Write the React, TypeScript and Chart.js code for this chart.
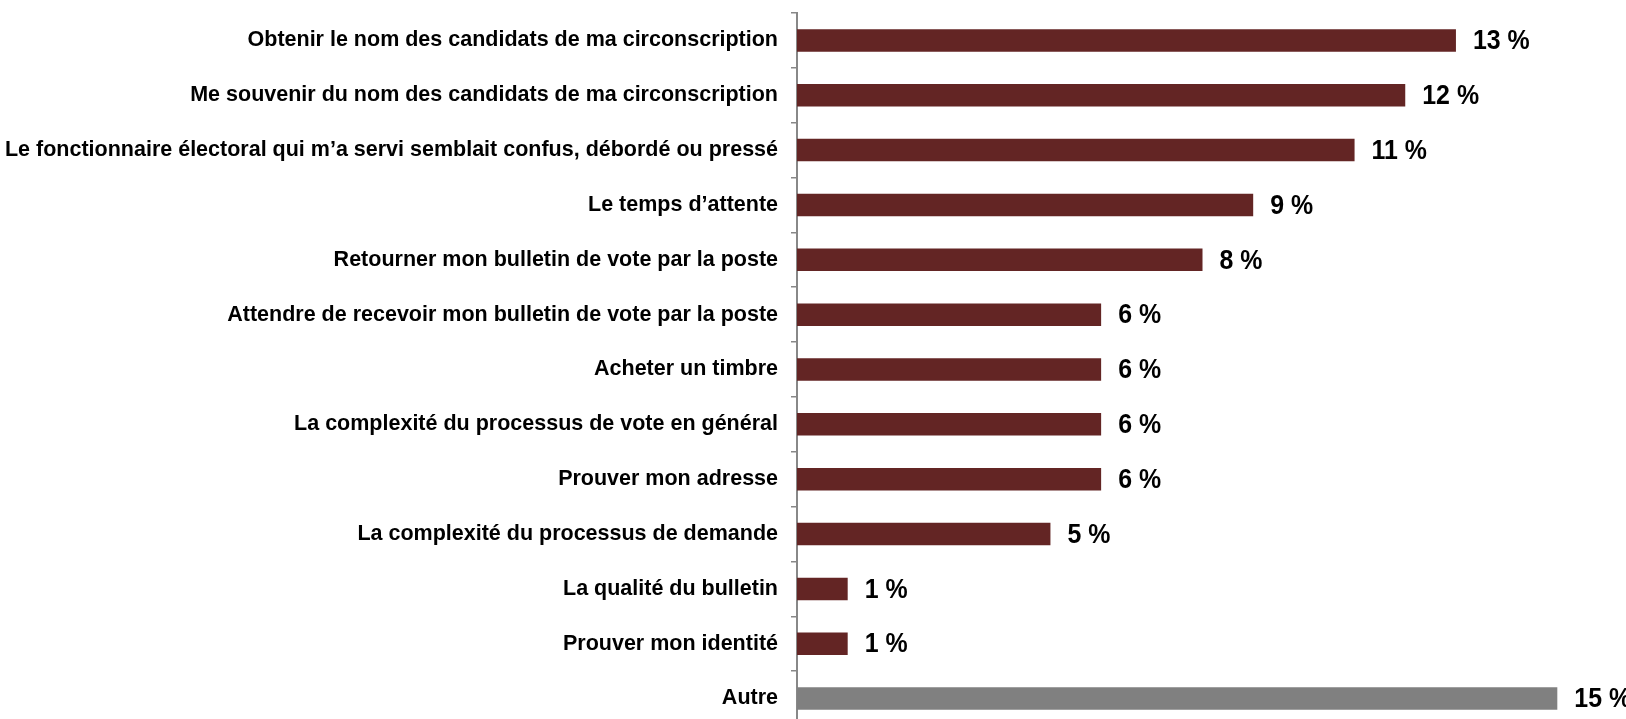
import React, { useEffect, useRef } from "react";
import { Chart, registerables } from "chart.js";

Chart.register(...registerables);

const categories: string[] = [
  "Obtenir le nom des candidats de ma circonscription",
  "Me souvenir du nom des candidats de ma circonscription",
  "Le fonctionnaire électoral qui m’a servi semblait confus, débordé ou pressé",
  "Le temps d’attente",
  "Retourner mon bulletin de vote par la poste",
  "Attendre de recevoir mon bulletin de vote par la poste",
  "Acheter un timbre",
  "La complexité du processus de vote en général",
  "Prouver mon adresse",
  "La complexité du processus de demande",
  "La qualité du bulletin",
  "Prouver mon identité",
  "Autre",
];

const values: number[] = [13, 12, 11, 9, 8, 6, 6, 6, 6, 5, 1, 1, 15];

const barColors: string[] = [
  "#632524", "#632524", "#632524", "#632524", "#632524", "#632524",
  "#632524", "#632524", "#632524", "#632524", "#632524", "#632524",
  "#808080",
];

const FONT = "'Liberation Sans', Arial, Helvetica, sans-serif";

const valueLabelPlugin = {
  id: "valueLabels",
  afterDatasetsDraw(chart: any) {
    const ctx = chart.ctx;
    const meta = chart.getDatasetMeta(0);
    const data = chart.data.datasets[0].data as number[];
    ctx.save();
    ctx.fillStyle = "#000000";
    ctx.font = `bold 28px ${FONT}`;
    ctx.textAlign = "left";
    ctx.textBaseline = "middle";
    meta.data.forEach((bar: any, i: number) => {
      ctx.save();
      ctx.translate(bar.x + 17, bar.y + 1);
      ctx.scale(0.89, 1);
      ctx.fillText(`${data[i]} %`, 0, 0);
      ctx.restore();
    });
    ctx.restore();
  },
};

export default function App() {
  const canvasRef = useRef<HTMLCanvasElement | null>(null);

  useEffect(() => {
    document.body.style.margin = "0";
    document.body.style.overflow = "hidden";
    const canvas = canvasRef.current;
    if (!canvas) return;
    const chart = new Chart(canvas, {
      type: "bar",
      data: {
        labels: categories,
        datasets: [
          {
            data: values,
            backgroundColor: barColors,
            borderWidth: 0,
            barPercentage: 1,
            categoryPercentage: 0.41,
          },
        ],
      },
      options: {
        indexAxis: "y",
        animation: false,
        responsive: true,
        maintainAspectRatio: false,
        layout: { padding: { top: 13, right: 18, bottom: 0, left: 0 } },
        plugins: {
          legend: { display: false },
          tooltip: { enabled: false },
        },
        scales: {
          x: {
            display: false,
            min: 0,
            max: 16,
          },
          y: {
            afterFit(scale: any) {
              scale.width = 797;
              scale.paddingTop = 0;
              scale.paddingBottom = 0;
            },
            border: { display: true, color: "#888888", width: 2 },
            grid: {
              display: true,
              drawOnChartArea: false,
              drawTicks: true,
              tickLength: 6,
              color: "#888888",
              lineWidth: 1.5,
              offset: true,
            },
            ticks: {
              autoSkip: false,
              color: "#000000",
              padding: 13,
              font: { family: FONT, size: 21.5, weight: "bold" },
            },
          },
        },
      },
      plugins: [valueLabelPlugin],
    });
    return () => chart.destroy();
  }, []);

  return (
    <div
      style={{
        position: "fixed",
        left: 0,
        top: 0,
        width: "1626px",
        height: "719px",
        overflow: "hidden",
        background: "#ffffff",
      }}
    >
      <div style={{ position: "relative", width: "1626px", height: "726px" }}>
        <canvas ref={canvasRef} />
      </div>
    </div>
  );
}
